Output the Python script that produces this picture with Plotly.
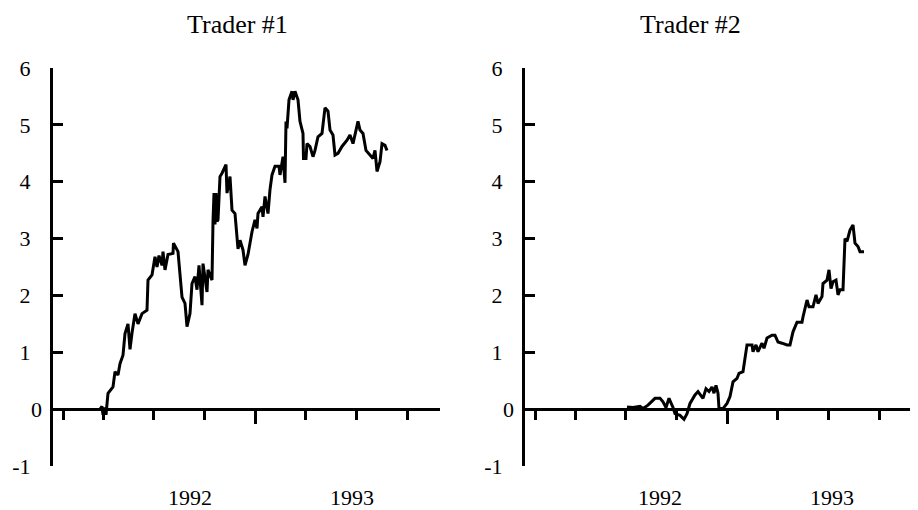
import plotly.graph_objects as go

# ---------------- data ----------------
# x: position along the time axis (trading-day index from the axis origin)
t1_x = [47, 49, 50, 52, 53, 55, 60, 62, 65, 67, 70, 72, 75, 77, 79, 82, 85, 89, 94, 95,
        99, 102, 104, 106, 109, 110, 112, 115, 120, 120.5, 125, 127, 129, 132, 134, 137, 139, 142, 144, 146,
        149, 150, 154, 155, 159, 160, 161, 162, 163, 164, 165, 167, 169, 173, 174, 177, 179, 182, 184, 185,
        187, 190, 192, 195, 199, 202, 204, 205, 209, 210, 212, 215, 217, 219, 222, 226, 227, 230, 232, 233,
        234, 236, 239, 240, 242, 245, 247, 250, 250.5, 253, 254, 257, 260, 262, 265, 269, 270, 272, 275, 277,
        280, 282, 285, 289, 294, 297, 300, 302, 305, 307, 310, 313, 317, 320, 322, 324, 327, 329, 332, 334]
t1_y = [0.0, 0.05, -0.1, 0.03, -0.1, 0.28, 0.39, 0.66, 0.6, 0.8, 0.95, 1.33, 1.5, 1.05, 1.34, 1.68, 1.5, 1.68, 1.74, 2.27,
        2.36, 2.68, 2.5, 2.7, 2.53, 2.77, 2.45, 2.72, 2.74, 2.92, 2.77, 2.33, 1.97, 1.86, 1.45, 1.68, 2.21, 2.33, 2.1, 2.53,
        1.83, 2.56, 2.06, 2.45, 2.27, 3.3, 3.8, 3.25, 3.8, 3.3, 3.33, 4.09, 4.15, 4.3, 3.8, 4.09, 3.5, 3.44, 3.03, 2.82,
        2.97, 2.8, 2.53, 2.72, 3.12, 3.33, 3.18, 3.44, 3.56, 3.38, 3.74, 3.44, 3.86, 4.12, 4.27, 4.27, 4.12, 4.44, 3.98, 5.06,
        4.94, 5.44, 5.59, 5.44, 5.59, 5.44, 5.06, 4.85, 4.41, 4.41, 4.67, 4.62, 4.44, 4.55, 4.79, 4.85, 5.0, 5.3, 5.24, 4.91,
        4.82, 4.47, 4.5, 4.62, 4.73, 4.82, 4.67, 4.85, 5.06, 4.91, 4.85, 4.55, 4.47, 4.41, 4.55, 4.18, 4.35, 4.67, 4.64, 4.55]

t2_x = [102, 108, 115, 118, 123, 127, 130, 135, 138, 141, 144, 148, 150, 155, 159, 162, 165, 170, 173, 178,
        181, 184, 187, 189, 191, 193, 194, 198, 202, 205, 208, 212, 214, 218, 220, 222, 227, 228, 231, 233,
        237, 239, 242, 247, 250, 253, 257, 262, 265, 268, 272, 277, 278, 282, 284, 288, 291, 293, 297, 298,
        302, 304, 306, 308, 311, 313, 315, 318, 320, 322, 325, 328, 330, 333, 335, 339]
t2_y = [0.04, 0.03, 0.05, 0.01, 0.07, 0.13, 0.19, 0.19, 0.13, 0.03, 0.19, 0.03, -0.08, -0.11, -0.18, -0.08, 0.1, 0.25, 0.31, 0.19,
        0.36, 0.31, 0.39, 0.28, 0.42, 0.28, 0.01, 0.01, 0.1, 0.22, 0.48, 0.54, 0.63, 0.66, 0.89, 1.13, 1.13, 1.01, 1.13, 1.01,
        1.16, 1.07, 1.25, 1.3, 1.3, 1.18, 1.16, 1.13, 1.13, 1.36, 1.53, 1.53, 1.62, 1.92, 1.8, 1.8, 2.01, 1.86, 1.98, 2.21,
        2.27, 2.45, 2.12, 2.24, 2.27, 2.01, 2.1, 2.1, 3.0, 2.95, 3.15, 3.24, 2.92, 2.86, 2.77, 2.77]

titles = ["Trader #1", "Trader #2"]
y_ticks = [-1, 0, 1, 2, 3, 4, 5, 6]
y_tick_text = ["-1", "", "1", "2", "3", "4", "5", "6"]   # "0" is drawn separately, nearer the axis
zero_label = "0"
x_minor_ticks = [10, 50, 100, 151, 252, 303, 354]
x_major_ticks = [202]
year_labels = ["1992", "1993"]
year_label_pos_1 = [137, 299]
year_label_pos_2 = [135, 307]

# ---------------- layout ----------------
# page body has an 8px margin, so figure pixel = screen pixel - 8
OFF = 8
W, H = 910, 502
FONT = "Liberation Serif"


def px_x(p):
    return (p - OFF) / W


def px_y(p):
    return (H - (p - OFF)) / H


ydom = [px_y(466), px_y(68)]
y_range = [-1, 6]
xpos = ydom[0] + (0 - y_range[0]) / (y_range[1] - y_range[0]) * (ydom[1] - ydom[0])

fig = go.Figure()
fig.add_trace(go.Scatter(x=t1_x, y=t1_y, mode="lines", line=dict(color="black", width=3),
                         xaxis="x", yaxis="y", showlegend=False))
fig.add_trace(go.Scatter(x=t2_x, y=t2_y, mode="lines", line=dict(color="black", width=3),
                         xaxis="x2", yaxis="y2", showlegend=False))


def xaxis(dom, rng):
    return dict(domain=dom, range=rng, anchor="free", position=xpos, automargin=False,
                showline=True, linecolor="black", linewidth=3,
                showgrid=False, zeroline=False, showticklabels=False,
                tickmode="array", tickvals=x_major_ticks, ticks="outside",
                ticklen=13, tickwidth=3, tickcolor="black",
                minor=dict(tickmode="array", tickvals=x_minor_ticks, ticks="outside",
                           ticklen=9, tickwidth=3, tickcolor="black", showgrid=False))


def yaxis(anchor):
    return dict(domain=ydom, range=y_range, anchor=anchor, automargin=False,
                showline=True, linecolor="black", linewidth=3,
                showgrid=False, zeroline=False,
                tickmode="array", tickvals=y_ticks, ticktext=y_tick_text, ticks="inside",
                ticklen=10, tickwidth=3, tickcolor="black",
                ticklabelstandoff=15,
                tickfont=dict(family=FONT, size=22, color="black"))


annotations = []
for t, cx in zip(titles, [237, 690]):
    annotations.append(dict(text=t, x=px_x(cx), y=px_y(25), xref="paper", yref="paper",
                            showarrow=False, xanchor="center", yanchor="middle",
                            font=dict(family=FONT, size=26, color="black")))
for xr, posl in [("x", year_label_pos_1), ("x2", year_label_pos_2)]:
    for lab, p in zip(year_labels, posl):
        annotations.append(dict(text=lab, x=p, y=px_y(497), xref=xr, yref="paper",
                                showarrow=False, xanchor="center", yanchor="middle",
                                font=dict(family=FONT, size=22, color="black")))
for yr, axis_px in [("y", 53), ("y2", 525)]:
    annotations.append(dict(text=zero_label, x=px_x(axis_px - 9), y=0, xref="paper", yref=yr,
                            showarrow=False, xanchor="right", yanchor="middle",
                            font=dict(family=FONT, size=22, color="black")))

fig.update_layout(
    width=W, height=H,
    margin=dict(l=0, r=0, t=0, b=0),
    paper_bgcolor="white", plot_bgcolor="white",
    xaxis=xaxis([px_x(53), px_x(440)], [0, 387]),
    yaxis=yaxis("x"),
    xaxis2=xaxis([px_x(525), px_x(915)], [0, 390]),
    yaxis2=yaxis("x2"),
    annotations=annotations,
    showlegend=False,
)

fig.write_html("out.html")
